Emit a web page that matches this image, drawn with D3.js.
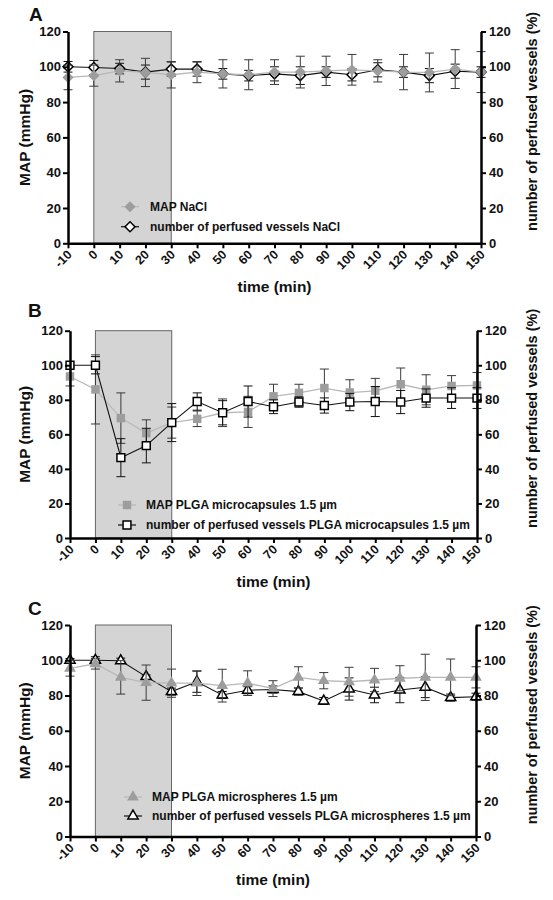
<!DOCTYPE html>
<html>
<head>
<meta charset="utf-8">
<script src="https://cdn.jsdelivr.net/npm/d3@7"></script>
<style>
  html, body { margin: 0; padding: 0; background: #fff; }
  svg { display: block; }
  text { font-family: "Liberation Sans", Arial, sans-serif; font-weight: bold; fill: #111; }
</style>
</head>
<body>
<svg id="chart" width="553" height="900"></svg>
<script>
// ---------- data ----------
const time = [-10, 0, 10, 20, 30, 40, 50, 60, 70, 80, 90, 100, 110, 120, 130, 140, 150];
const xTicks = [-10, 0, 10, 20, 30, 40, 50, 60, 70, 80, 90, 100, 110, 120, 130, 140, 150];
const yTicks = [0, 20, 40, 60, 80, 100, 120];
const boxRange = [0, 30];

// Panel A (NaCl)
const mapA    = [94, 95, 97.7, 96.8, 95.5, 97, 96, 95.5, 97, 97, 97.7, 98.3, 97.7, 97, 96.8, 98.7, 97];
const mapAsd  = [7, 6, 6.3, 8, 7.5, 6, 8, 8.5, 7, 9, 8.3, 8.7, 6.3, 10, 11, 11, 11.6];
const vesA    = [100, 99.6, 99, 97, 98.7, 98.7, 96, 95, 96, 95, 97, 95.5, 98.3, 97, 95, 97.5, 97];
const vesAsd  = [3, 4, 3, 4, 4, 4, 3, 3, 4, 5, 3, 3.5, 4, 3, 4, 4, 3];

// Panel B (PLGA microcapsules)
const mapB    = [93.5, 86, 69.4, 60.7, 66.8, 69, 72.5, 73, 82, 84, 86.8, 84.2, 85.2, 89, 85.8, 88, 88.3];
const mapBsd  = [5.5, 20, 14.6, 7.7, 9, 4.5, 8, 9, 7, 5, 11, 7.4, 7.2, 9.4, 8.7, 6, 7.5];
const vesB    = [100, 100, 46.5, 53.5, 66.8, 79, 72.5, 79, 76, 78.7, 76.7, 78.7, 79, 78.7, 81, 81, 81];
const vesBsd  = [0, 5, 11, 10, 11, 5, 7, 9, 4, 3, 4.4, 5, 8.7, 6.7, 5.3, 6, 6];

// Panel C (PLGA microspheres)
const mapC    = [95.4, 98, 90.3, 87.3, 87, 87, 85.6, 87, 83.9, 90.3, 88.4, 87.8, 88.8, 89.8, 90.3, 90.3, 90.3];
const mapCsd  = [4.4, 3, 9.5, 10, 8, 7, 9.3, 7, 4.5, 6, 4.6, 8.2, 6.6, 7.1, 13.1, 10.4, 6];
const vesC    = [100, 100, 99.7, 90.7, 82.2, 87.8, 80.3, 83, 83.4, 82.2, 76.9, 83.7, 80.3, 83.1, 84.7, 78.8, 79.3];
const vesCsd  = [1, 2, 1.5, 1, 2, 6, 2, 2, 2, 2, 2, 6.3, 4.4, 7.2, 5.9, 2, 2];

const panelLetters = ["A", "B", "C"];
const legendMap = ["MAP NaCl", "MAP PLGA microcapsules 1.5 µm", "MAP PLGA microspheres 1.5 µm"];
const legendVes = ["number of perfused vessels NaCl",
                   "number of perfused vessels PLGA microcapsules 1.5 µm",
                   "number of perfused vessels PLGA microspheres 1.5 µm"];
const xTitle = "time (min)";
const yTitleLeft = "MAP (mmHg)";
const yTitleRight = "number of perfused vessels (%)";

// ---------- layout ----------
const layouts = [
  { left: 68, right: 481, top: 31.5, bottom: 243.3, letterX: 29, letterY: 21, symbol: "diamond",
    legX: 130, legTextX: 150, legY: [206.7, 226.7] },
  { left: 70, right: 477, top: 330.7, bottom: 538, letterX: 28, letterY: 317, symbol: "square",
    legX: 127, legTextX: 146, legY: [505, 525] },
  { left: 70, right: 476, top: 625, bottom: 836.5, letterX: 28, letterY: 615, symbol: "triangle",
    legX: 133, legTextX: 152, legY: [797, 816] }
];
const series = [
  { map: mapA, mapSd: mapAsd, ves: vesA, vesSd: vesAsd },
  { map: mapB, mapSd: mapBsd, ves: vesB, vesSd: vesBsd },
  { map: mapC, mapSd: mapCsd, ves: vesC, vesSd: vesCsd }
];

const GREY_LINE = "#b8b8b8";
const GREY_FILL = "#9d9d9d";
const svg = d3.select("#chart");

function symbolPath(kind, filled) {
  if (kind === "diamond") return d3.symbol(d3.symbolSquare, filled ? 62 : 50)();
  if (kind === "square") return d3.symbol(d3.symbolSquare, filled ? 72 : 62)();
  return d3.symbol(d3.symbolTriangle, filled ? 60 : 46)();
}
function symbolRotate(kind) { return kind === "diamond" ? " rotate(45)" : ""; }

layouts.forEach((L, i) => {
  const S = series[i];
  const g = svg.append("g");
  const x = d3.scaleLinear().domain([-10, 150]).range([L.left, L.right]);
  const y = d3.scaleLinear().domain([0, 120]).range([L.bottom, L.top]);

  // grey box
  g.append("rect")
    .attr("x", x(boxRange[0])).attr("y", y(120))
    .attr("width", x(boxRange[1]) - x(boxRange[0]))
    .attr("height", y(0) - y(120))
    .attr("fill", "#d4d4d4").attr("stroke", "#666").attr("stroke-width", 1);

  const line = d3.line().x((d, k) => x(time[k])).y(d => y(d));

  function drawErr(vals, sds, color) {
    const eg = g.append("g").attr("stroke", color).attr("stroke-width", 1).attr("fill", "none");
    vals.forEach((v, k) => {
      const sd = sds[k];
      if (!sd) return;
      const cx = x(time[k]);
      eg.append("line").attr("x1", cx).attr("x2", cx).attr("y1", y(v - sd)).attr("y2", y(v + sd));
      [v - sd, v + sd].forEach(e => {
        eg.append("line").attr("x1", cx - 4.5).attr("x2", cx + 4.5).attr("y1", y(e)).attr("y2", y(e));
      });
    });
  }

  function drawMap() {
    g.append("path").datum(S.map).attr("d", line)
      .attr("fill", "none").attr("stroke", GREY_LINE).attr("stroke-width", 1.3);
    drawErr(S.map, S.mapSd, "#3a3a3a");
    g.append("g").selectAll("path").data(S.map).join("path")
      .attr("d", symbolPath(L.symbol, true))
      .attr("transform", (d, k) => `translate(${x(time[k])},${y(d)})` + symbolRotate(L.symbol))
      .attr("fill", GREY_FILL).attr("stroke", "none");
  }
  function drawVes() {
    g.append("path").datum(S.ves).attr("d", line)
      .attr("fill", "none").attr("stroke", "#111").attr("stroke-width", 1.1);
    drawErr(S.ves, S.vesSd, "#111");
    g.append("g").selectAll("path").data(S.ves).join("path")
      .attr("d", symbolPath(L.symbol, false))
      .attr("transform", (d, k) => `translate(${x(time[k])},${y(d)})` + symbolRotate(L.symbol))
      .attr("fill", "#fff").attr("stroke", "#000").attr("stroke-width", 1.5);
  }
  if (i === 1) { drawMap(); drawVes(); } else { drawVes(); drawMap(); }

  // axes
  const ax = d3.axisBottom(x).tickValues(xTicks).tickSize(5).tickSizeOuter(0).tickFormat(d => String(d));
  const gx = g.append("g").attr("transform", `translate(0,${L.bottom})`).call(ax);
  gx.selectAll("text")
    .attr("x", 0).attr("y", 0).attr("dy", "0.35em")
    .attr("text-anchor", "end")
    .attr("transform", "translate(1,9) rotate(-45)")
    .style("font-size", "12.5px");

  const ayl = d3.axisLeft(y).tickValues(yTicks).tickSize(5).tickSizeOuter(0).tickPadding(2);
  const gyl = g.append("g").attr("transform", `translate(${L.left},0)`).call(ayl);
  gyl.selectAll("text").style("font-size", "13px");

  const ayr = d3.axisRight(y).tickValues(yTicks).tickSize(5).tickSizeOuter(0).tickPadding(3);
  const gyr = g.append("g").attr("transform", `translate(${L.right},0)`).call(ayr);
  gyr.selectAll("text").style("font-size", "13px");

  [gx, gyl, gyr].forEach(a => {
    a.select(".domain").attr("stroke", "#000").attr("stroke-width", 2.5);
    a.selectAll(".tick line").attr("stroke", "#000").attr("stroke-width", 2);
    a.selectAll("text").attr("fill", "#111").style("font-family", "'Liberation Sans', Arial, sans-serif").style("font-weight", "bold");
  });

  // titles
  g.append("text").attr("x", (L.left + L.right) / 2).attr("y", L.bottom + 48.5)
    .attr("text-anchor", "middle").style("font-size", "15.5px").text(xTitle);
  const midY = (L.top + L.bottom) / 2;
  g.append("text").attr("transform", `translate(30,${midY}) rotate(-90)`)
    .attr("text-anchor", "middle").style("font-size", "15.5px").text(yTitleLeft);
  g.append("text").attr("transform", `translate(537,${midY - 16}) rotate(-90)`)
    .attr("text-anchor", "middle").style("font-size", "14.5px").text(yTitleRight);

  // panel letter
  g.append("text").attr("x", L.letterX).attr("y", L.letterY).style("font-size", "19px").text(panelLetters[i]);

  // legend
  const lg = g.append("g");
  [0, 1].forEach(r => {
    const ly = L.legY[r];
    lg.append("line").attr("x1", L.legX - 9).attr("x2", L.legX + 9).attr("y1", ly).attr("y2", ly)
      .attr("stroke", r === 0 ? GREY_LINE : "#111").attr("stroke-width", 1.2);
    lg.append("path").attr("d", symbolPath(L.symbol, r === 0))
      .attr("transform", `translate(${L.legX},${ly})` + symbolRotate(L.symbol))
      .attr("fill", r === 0 ? GREY_FILL : "#fff")
      .attr("stroke", r === 0 ? "none" : "#000").attr("stroke-width", 1.5);
    lg.append("text").attr("x", L.legTextX).attr("y", ly).attr("dy", "0.35em")
      .style("font-size", "12px").text(r === 0 ? legendMap[i] : legendVes[i]);
  });
});
</script>
</body>
</html>
